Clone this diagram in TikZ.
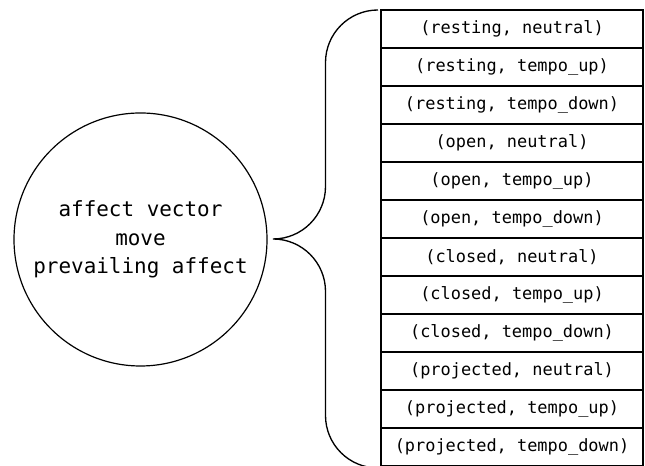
\documentclass[tikz,border=0pt]{standalone}
\usepackage{fontspec}
\setmonofont{DejaVu Sans Mono}
\usepackage{tikz}
\usetikzlibrary{positioning}
\tikzset{
every picture/.style={x=0.75pt, y=0.75pt},
statenode/.style={circle, draw=black, line width=0.9pt, minimum size=189.75pt, inner sep=0pt, align=center, font=\ttfamily\fontsize{15.7}{21.2}\selectfont},
pairnode/.style={rectangle, draw=black, line width=1.5pt, minimum width=196.5pt, minimum height=28.5pt, inner sep=0pt, outer sep=0pt, font=\ttfamily\fontsize{12.7}{14}\selectfont},
bracestyle/.style={draw=black, line width=1pt}
}

\begin{document}
\begin{tikzpicture}[node distance=0pt and 0pt]
\useasboundingbox (0,0) rectangle (645,466);
%Nodes
\node[statenode] (affect) at (140.5,226.5) {affect vector\\move\\prevailing affect};
\node[pairnode] (rn) at (512,437) {(resting, neutral)};
\node[pairnode] (ru) [below=of rn] {(resting, tempo\_up)};
\node[pairnode] (rd) [below=of ru] {(resting, tempo\_down)};
\node[pairnode] (on) [below=of rd] {(open, neutral)};
\node[pairnode] (ou) [below=of on] {(open, tempo\_up)};
\node[pairnode] (od) [below=of ou] {(open, tempo\_down)};
\node[pairnode] (cn) [below=of od] {(closed, neutral)};
\node[pairnode] (cu) [below=of cn] {(closed, tempo\_up)};
\node[pairnode] (cd) [below=of cu] {(closed, tempo\_down)};
\node[pairnode] (pn) [below=of cd] {(projected, neutral)};
\node[pairnode] (pu) [below=of pn] {(projected, tempo\_up)};
\node[pairnode] (pd) [below=of pu] {(projected, tempo\_down)};

%Brace
\coordinate (tip) at (273,227);
\coordinate (bracetop) at (378,456);
\draw[bracestyle] (bracetop) arc[start angle=90, end angle=180, radius=52.5]
  -- ++(0,-124) arc[start angle=0, end angle=-90, radius=52.5]
  arc[start angle=90, end angle=0, radius=52.5]
  -- ++(0,-124) arc[start angle=180, end angle=270, radius=52.5];
\end{tikzpicture}
\end{document}
